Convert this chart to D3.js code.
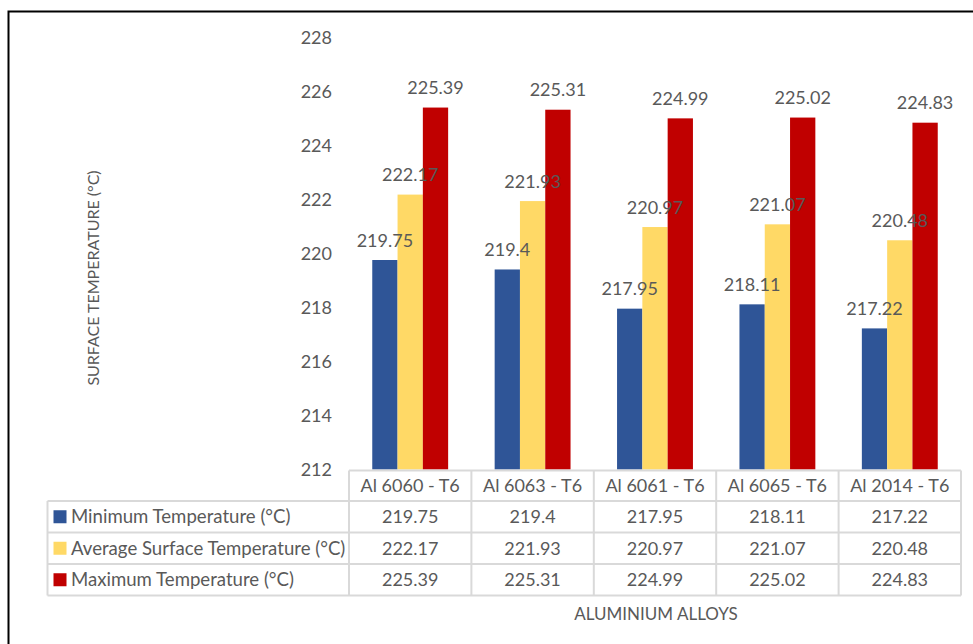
<!DOCTYPE html>
<html>
<head>
<meta charset="utf-8">
<script src="https://cdn.jsdelivr.net/npm/d3@7/dist/d3.min.js"></script>
<style>
  html, body { margin: 0; padding: 0; background: #fff; }
  svg { display: block; }
  text { font-family: Lato, "Open Sans", sans-serif; fill: #595959; }
</style>
</head>
<body>
<svg id="chart" width="973" height="644"></svg>
<script>
// Alloys on the x axis
const categories = ["Al 6060 - T6", "Al 6063 - T6", "Al 6061 - T6", "Al 6065 - T6", "Al 2014 - T6"];
// Series names and values (°C)
const seriesNames = ["Minimum Temperature (°C)", "Average Surface Temperature (°C)", "Maximum Temperature (°C)"];
const minTemp = [219.75, 219.4, 217.95, 218.11, 217.22];
const avgTemp = [222.17, 221.93, 220.97, 221.07, 220.48];
const maxTemp = [225.39, 225.31, 224.99, 225.02, 224.83];
const seriesColors = ["#2F5597", "#FFD966", "#C00000"];
// Value axis ticks
const yTicks = [212, 214, 216, 218, 220, 222, 224, 226, 228];

const seriesValues = [minTemp, avgTemp, maxTemp];
const labelFmt = d => String(d);

const svg = d3.select("#chart");

// Outer frame
svg.append("rect")
  .attr("x", 8.5).attr("y", 11.5)
  .attr("width", 1000).attr("height", 700)
  .attr("fill", "none").attr("stroke", "#000").attr("stroke-width", 2);

const plotLeft = 349, plotRight = 961, plotTop = 37, plotBottom = 469.5;

const y = d3.scaleLinear().domain([212, 228]).range([plotBottom, plotTop]);
const x0 = d3.scaleBand().domain(categories).range([plotLeft, plotRight]).padding(0);
const bw = x0.bandwidth();
const x1 = d3.scaleBand().domain(d3.range(seriesNames.length)).range([bw * 0.19, bw * 0.81]).padding(0);

// Y axis: labels only
const yAxis = d3.axisLeft(y).tickValues(yTicks).tickSize(0).tickPadding(0).tickFormat(d3.format("d"));
const gy = svg.append("g").attr("transform", `translate(332,0)`).call(yAxis);
gy.select(".domain").remove();
gy.selectAll("text")
  .style("font-family", "Lato, sans-serif")
  .style("font-size", "18px")
  .attr("fill", "#595959")
  .attr("dy", "0.36em");

// Bars
const groups = svg.append("g").selectAll("g")
  .data(categories)
  .join("g")
  .attr("transform", d => `translate(${x0(d)},0)`);

groups.selectAll("rect")
  .data((d, i) => seriesValues.map((vals, s) => ({ s, v: vals[i] })))
  .join("rect")
  .attr("x", d => x1(d.s))
  .attr("width", x1.bandwidth())
  .attr("y", d => y(d.v))
  .attr("height", d => y(212) - y(d.v))
  .attr("fill", d => seriesColors[d.s]);

// Value labels above bars
groups.selectAll("text")
  .data((d, i) => seriesValues.map((vals, s) => ({ s, v: vals[i] })))
  .join("text")
  .attr("x", d => x1(d.s) + x1.bandwidth() / 2)
  .attr("y", d => y(d.v) - 13.5)
  .attr("text-anchor", "middle")
  .style("font-size", "18px")
  .text(d => labelFmt(d.v));

// Data table under the plot
const tableLeft = 47.5;
const headerTop = 470.5, headerBottom = 501;
const rowH = 31.5;
const rowTops = seriesNames.map((_, i) => headerBottom + i * rowH);
const tableBottom = headerBottom + seriesNames.length * rowH;
const grid = svg.append("g").attr("stroke", "#D9D9D9").attr("stroke-width", 2).attr("fill", "none");

// horizontal lines
grid.append("line").attr("x1", plotLeft).attr("x2", plotRight).attr("y1", headerTop).attr("y2", headerTop);
[headerBottom, ...rowTops.slice(1), tableBottom].forEach(yy => {
  grid.append("line").attr("x1", tableLeft).attr("x2", plotRight).attr("y1", yy).attr("y2", yy);
});
// vertical lines
grid.append("line").attr("x1", tableLeft).attr("x2", tableLeft).attr("y1", headerBottom).attr("y2", tableBottom);
[...categories.map(c => x0(c)), plotRight].forEach(xx => {
  grid.append("line").attr("x1", xx).attr("x2", xx).attr("y1", headerTop).attr("y2", tableBottom);
});

// header labels
svg.append("g").selectAll("text")
  .data(categories)
  .join("text")
  .attr("x", d => x0(d) + bw / 2)
  .attr("y", (headerTop + headerBottom) / 2)
  .attr("dy", "0.36em")
  .attr("text-anchor", "middle")
  .style("font-size", "18px")
  .text(d => d);

// rows
seriesNames.forEach((name, s) => {
  const top = rowTops[s];
  const mid = top + rowH / 2;
  svg.append("rect")
    .attr("x", 53.5).attr("y", mid - 6.5)
    .attr("width", 13).attr("height", 13)
    .attr("fill", seriesColors[s]);
  svg.append("text")
    .attr("x", 71).attr("y", mid).attr("dy", "0.36em")
    .style("font-size", "18.6px")
    .text(name);
  svg.append("g").selectAll("text")
    .data(seriesValues[s])
    .join("text")
    .attr("x", (d, i) => x0(categories[i]) + bw / 2)
    .attr("y", mid).attr("dy", "0.36em")
    .attr("text-anchor", "middle")
    .style("font-size", "18px")
    .text(d => labelFmt(d));
});

// Axis titles
svg.append("text")
  .attr("transform", `translate(93,${278}) rotate(-90)`)
  .attr("dy", "0.36em")
  .attr("text-anchor", "middle")
  .style("font-size", "16px")
  .text("SURFACE TEMPERATURE (°C)");

svg.append("text")
  .attr("x", 656).attr("y", 614).attr("dy", "0.36em")
  .attr("text-anchor", "middle")
  .style("font-size", "17px")
  .text("ALUMINIUM ALLOYS");
</script>
</body>
</html>
